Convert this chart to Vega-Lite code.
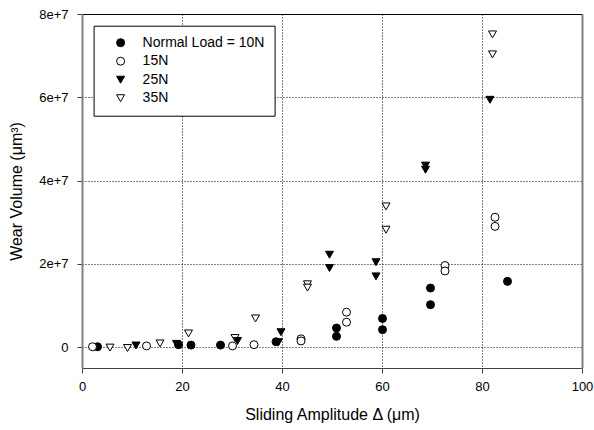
{
  "$schema": "https://vega.github.io/schema/vega-lite/v6.json",
  "autosize": "none",
  "width": 500,
  "height": 354,
  "padding": {"left": 82, "top": 14, "right": 12, "bottom": 62},
  "background": "white",
  "data": {
    "values": [
      {"load": "Normal Load = 10N", "amp": 3.1, "wear": 100000},
      {"load": "Normal Load = 10N", "amp": 19.3, "wear": 600000},
      {"load": "Normal Load = 10N", "amp": 21.8, "wear": 500000},
      {"load": "Normal Load = 10N", "amp": 27.7, "wear": 500000},
      {"load": "Normal Load = 10N", "amp": 38.8, "wear": 1300000},
      {"load": "Normal Load = 10N", "amp": 50.9, "wear": 4600000},
      {"load": "Normal Load = 10N", "amp": 50.9, "wear": 2600000},
      {"load": "Normal Load = 10N", "amp": 60.1, "wear": 6900000},
      {"load": "Normal Load = 10N", "amp": 60.1, "wear": 4200000},
      {"load": "Normal Load = 10N", "amp": 69.7, "wear": 14200000},
      {"load": "Normal Load = 10N", "amp": 69.7, "wear": 10200000},
      {"load": "Normal Load = 10N", "amp": 85.1, "wear": 15800000},
      {"load": "15N", "amp": 2.1, "wear": 100000},
      {"load": "15N", "amp": 12.9, "wear": 300000},
      {"load": "15N", "amp": 30.1, "wear": 300000},
      {"load": "15N", "amp": 34.4, "wear": 600000},
      {"load": "15N", "amp": 43.8, "wear": 2000000},
      {"load": "15N", "amp": 43.8, "wear": 1500000},
      {"load": "15N", "amp": 52.9, "wear": 8400000},
      {"load": "15N", "amp": 52.9, "wear": 6000000},
      {"load": "15N", "amp": 72.6, "wear": 19600000},
      {"load": "15N", "amp": 72.6, "wear": 18300000},
      {"load": "15N", "amp": 82.6, "wear": 31200000},
      {"load": "15N", "amp": 82.6, "wear": 29000000},
      {"load": "25N", "amp": 10.8, "wear": 400000},
      {"load": "25N", "amp": 18.9, "wear": 800000},
      {"load": "25N", "amp": 31.1, "wear": 1500000},
      {"load": "25N", "amp": 39.3, "wear": 1200000},
      {"load": "25N", "amp": 39.8, "wear": 3600000},
      {"load": "25N", "amp": 49.5, "wear": 22200000},
      {"load": "25N", "amp": 49.5, "wear": 19000000},
      {"load": "25N", "amp": 58.8, "wear": 20400000},
      {"load": "25N", "amp": 58.8, "wear": 17000000},
      {"load": "25N", "amp": 68.7, "wear": 43600000},
      {"load": "25N", "amp": 68.7, "wear": 42600000},
      {"load": "25N", "amp": 81.6, "wear": 59400000},
      {"load": "35N", "amp": 5.6, "wear": -100000},
      {"load": "35N", "amp": 9.1, "wear": -200000},
      {"load": "35N", "amp": 15.6, "wear": 900000},
      {"load": "35N", "amp": 21.3, "wear": 3300000},
      {"load": "35N", "amp": 30.6, "wear": 2200000},
      {"load": "35N", "amp": 34.7, "wear": 6900000},
      {"load": "35N", "amp": 45.1, "wear": 15100000},
      {"load": "35N", "amp": 45.1, "wear": 14300000},
      {"load": "35N", "amp": 60.8, "wear": 33800000},
      {"load": "35N", "amp": 60.8, "wear": 28200000},
      {"load": "35N", "amp": 82.1, "wear": 75100000},
      {"load": "35N", "amp": 82.1, "wear": 70300000}
    ]
  },
  "resolve": {"axis": {"x": "independent", "y": "independent"}},
  "layer": [
    {
      "mark": {"type": "point", "opacity": 0},
      "encoding": {
        "x": {"field": "amp", "type": "quantitative", "scale": {"domain": [0, 100], "nice": false, "zero": false},
          "axis": {"orient": "top", "title": null, "labels": false, "ticks": false, "grid": false, "domain": true, "domainColor": "black", "domainWidth": 1}},
        "y": {"field": "wear", "type": "quantitative", "scale": {"domain": [-5000000, 80000000], "nice": false, "zero": false},
          "axis": {"orient": "right", "title": null, "labels": false, "ticks": false, "grid": false, "domain": true, "domainColor": "#808080", "domainWidth": 2}}
      }
    },
    {
      "mark": {"type": "point", "filled": true, "size": 64, "strokeWidth": 1, "opacity": 1},
      "encoding": {
        "x": {"field": "amp", "type": "quantitative", "title": "Sliding Amplitude Δ (μm)",
          "axis": {"orient": "bottom", "values": [0, 20, 40, 60, 80, 100], "grid": true, "gridColor": "black", "gridDash": [1, 2], "gridWidth": 1, "gridOpacity": 1,
            "domainColor": "#404040", "domainWidth": 1, "tickColor": "#404040", "tickSize": 5, "labelFontSize": 13, "labelPadding": 7, "titleFontSize": 16, "titlePadding": 13, "labelFlush": false}},
        "y": {"field": "wear", "type": "quantitative", "title": "Wear Volume (μm³)",
          "axis": {"orient": "left", "values": [0, 20000000, 40000000, 60000000, 80000000], "labelExpr": "datum.value == 0 ? '0' : format(datum.value, '.0e')",
            "grid": true, "gridColor": "black", "gridDash": [1, 2], "gridWidth": 1, "gridOpacity": 1,
            "domainColor": "#808080", "domainWidth": 2, "tickColor": "#404040", "tickSize": 5, "labelFontSize": 13, "labelPadding": 9, "titleFontSize": 16, "titlePadding": 14, "labelFlush": false}},
        "shape": {"field": "load", "type": "nominal", "title": null,
          "scale": {"domain": ["Normal Load = 10N", "15N", "25N", "35N"], "range": ["circle", "circle", "triangle-down", "triangle-down"]}},
        "fill": {"field": "load", "type": "nominal", "title": null,
          "scale": {"domain": ["Normal Load = 10N", "15N", "25N", "35N"], "range": ["black", "white", "black", "white"]}},
        "stroke": {"field": "load", "type": "nominal", "title": null,
          "scale": {"domain": ["Normal Load = 10N", "15N", "25N", "35N"], "range": ["black", "black", "black", "black"]}},
        "order": {"field": "load", "sort": "descending"}
      }
    }
  ],
  "config": {
    "view": {"stroke": null},
    "font": "Liberation Sans",
    "axis": {"labelFont": "Liberation Sans", "titleFont": "Liberation Sans", "labelColor": "black", "titleColor": "black", "titleFontWeight": "normal"},
    "legend": {
      "orient": "none", "legendX": 11.6, "legendY": 11.7,
      "fillColor": "white", "strokeColor": "black", "strokeWidth": 1,
      "padding": 10, "symbolOffset": 10, "labelOffset": 15,
      "labelFont": "Liberation Sans", "labelFontSize": 14, "labelColor": "black",
      "symbolSize": 64, "symbolStrokeColor": "black", "symbolStrokeWidth": 1, "rowPadding": 4.5
    }
  }
}
